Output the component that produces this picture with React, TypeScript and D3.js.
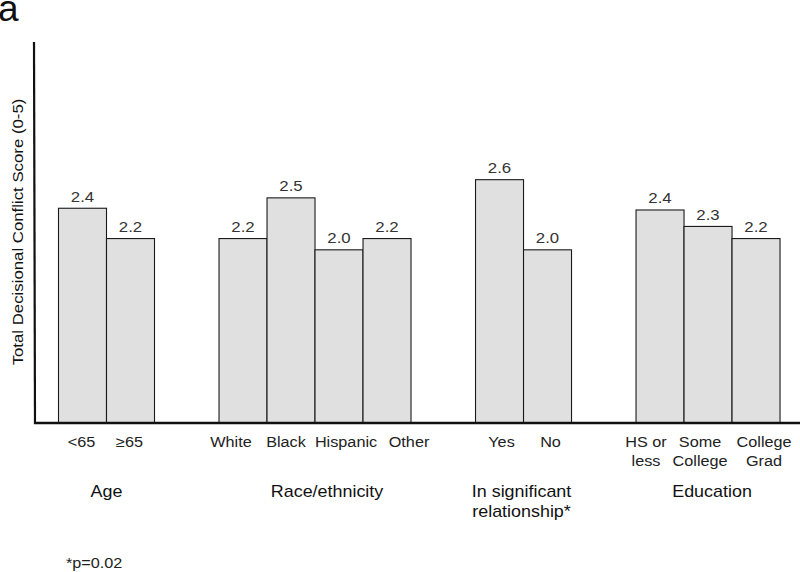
import React from 'react';
import * as d3 from 'd3';

const WIDTH = 800;
const HEIGHT = 572;
const BASELINE = 423;
const AXIS_TOP = 42;
const AXIS_X = 34;
const PLOT_LEFT = 58.5;
const BAR_WIDTH = 48;
const GROUP_GAP = 1.344; // gap between groups, in bar widths

// data
const groups = ['Age', 'Race/ethnicity', 'In significant\nrelationship*', 'Education'];
const categories = [
    ['<65', '≥65'],
    ['White', 'Black', 'Hispanic', 'Other'],
    ['Yes', 'No'],
    ['HS or\nless', 'Some\nCollege', 'College\nGrad'],
];
const values = [
    [2.48, 2.13],
    [2.13, 2.6, 2.0, 2.13],
    [2.81, 2.0],
    [2.46, 2.27, 2.13],
];
const valueLabels = [
    ['2.4', '2.2'],
    ['2.2', '2.5', '2.0', '2.2'],
    ['2.6', '2.0'],
    ['2.4', '2.3', '2.2'],
];
const yMax = 4.4;

// small text nudges, the source labels are not quite centred
const catNudge = [[-1, -1], [-12, -5, 7, 22], [2, 3], [-14, -8, 8]];
const groupNudge = [0, 12, -2, 4];

const FONT = '"Liberation Sans", Arial, sans-serif';
const SX = 1.12; // source text is a bit wider than Arial

function T({ x, y, size, anchor = 'middle', fill = '#222', rotate = 0, children }: any) {
    return (
        <text transform={`translate(${x},${y}) rotate(${rotate}) scale(${SX},1)`}
            textAnchor={anchor} fontSize={size} fill={fill}>{children}</text>
    );
}

export default function App() {
    const bars: any[] = [];
    let slot = 0;
    const groupSpans: { start: number; end: number }[] = [];
    categories.forEach((cats, g) => {
        if (g > 0) slot += GROUP_GAP;
        const start = slot;
        cats.forEach((c, i) => {
            bars.push({ g, i, cat: c, value: values[g][i], label: valueLabels[g][i], slot });
            slot += 1;
        });
        groupSpans.push({ start, end: slot });
    });

    const x = d3.scaleLinear()
        .domain([0, slot])
        .range([PLOT_LEFT, PLOT_LEFT + slot * BAR_WIDTH]);
    const y = d3.scaleLinear()
        .domain([0, yMax])
        .range([BASELINE, AXIS_TOP]);

    return (
        <svg width={WIDTH} height={HEIGHT}
            style={{ position: 'absolute', left: 0, top: 0, background: '#fff' }}
            fontFamily={FONT}>
            <text x={-2} y={21} fontSize={37} fill="#111">a</text>

            <T x={23} y={232} rotate={-90} size={15} fill="#111">Total Decisional Conflict Score (0-5)</T>

            {bars.map((b, k) => {
                const x0 = x(b.slot);
                const x1 = x(b.slot + 1);
                const cx = (x0 + x1) / 2;
                const lines = b.cat.split('\n');
                return (
                    <g key={k}>
                        <rect x={x0} y={y(b.value)} width={x1 - x0} height={BASELINE - y(b.value)}
                            fill="#e0e0e0" stroke="#1a1a1a" strokeWidth={1.1} />
                        <T x={cx} y={y(b.value) - 6.5} size={15} fill="#333">{b.label}</T>
                        {lines.map((ln: string, j: number) => (
                            <T key={j} x={cx + catNudge[b.g][b.i]} y={447 + j * 19} size={14.5}>{ln}</T>
                        ))}
                    </g>
                );
            })}

            {groups.map((gname, g) => {
                const cx = (x(groupSpans[g].start) + x(groupSpans[g].end)) / 2 + groupNudge[g];
                return gname.split('\n').map((ln, j) => (
                    <T key={`${g}-${j}`} x={cx} y={497 + j * 20} size={16} fill="#111">{ln}</T>
                ));
            })}

            <line x1={AXIS_X} y1={AXIS_TOP} x2={AXIS_X + 1} y2={BASELINE + 1} stroke="#111" strokeWidth={2.2} />
            <line x1={AXIS_X} y1={BASELINE} x2={WIDTH} y2={BASELINE} stroke="#111" strokeWidth={2.6} />

            <T x={66} y={568} size={14.5} anchor="start">*p=0.02</T>
        </svg>
    );
}
